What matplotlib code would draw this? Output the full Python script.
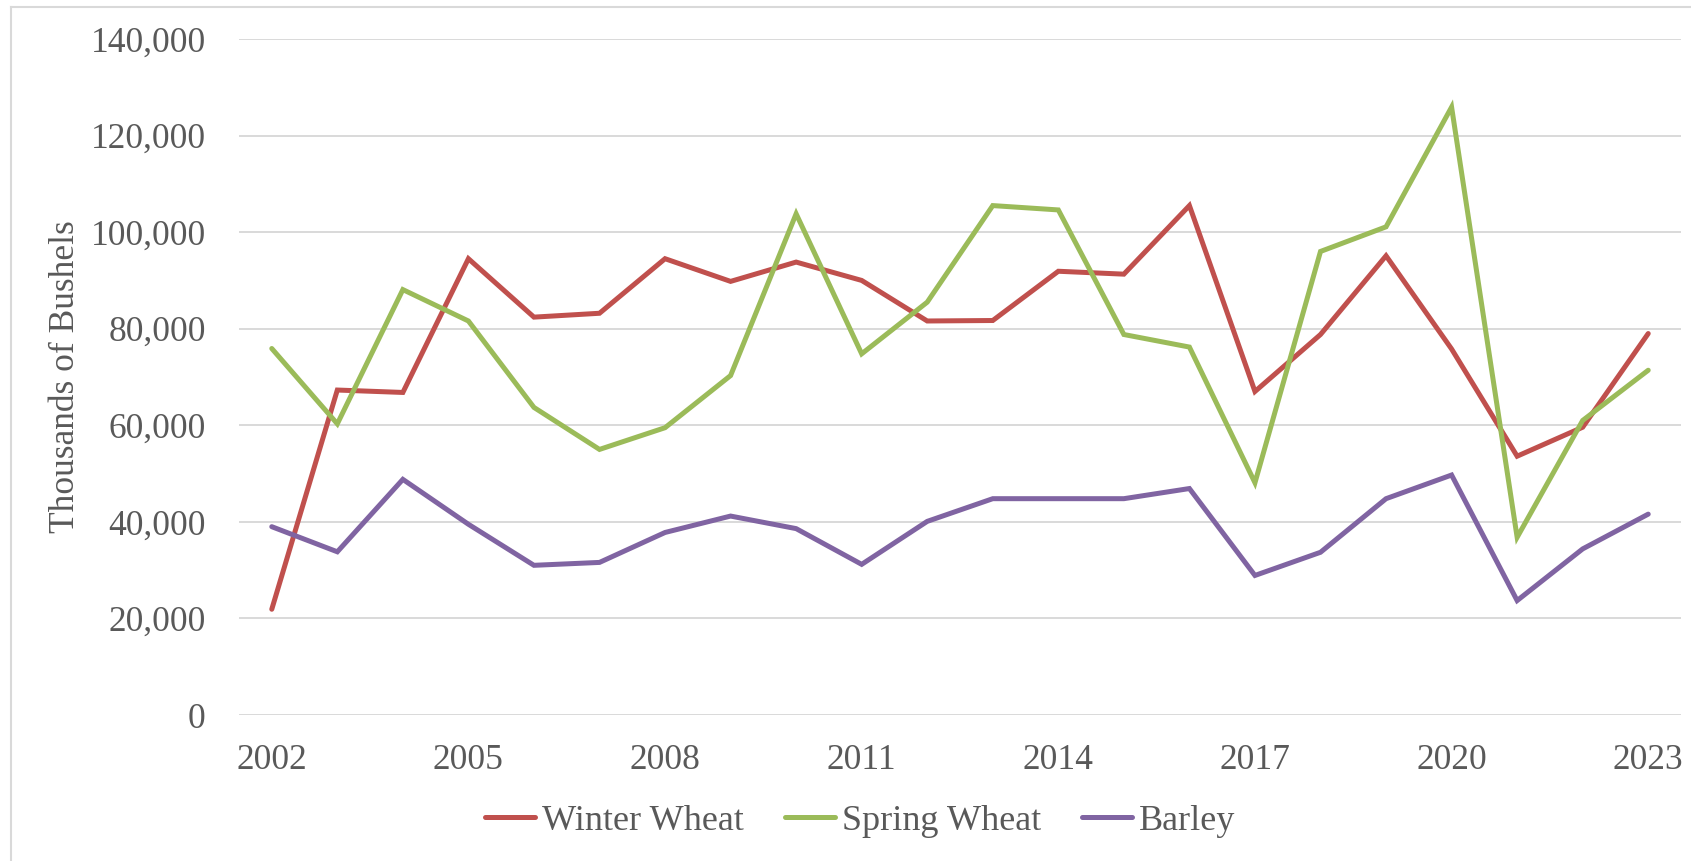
import matplotlib
matplotlib.use("Agg")
import matplotlib.pyplot as plt
from matplotlib.ticker import FuncFormatter, FixedLocator
from matplotlib.lines import Line2D

years = list(range(2002, 2024))
winter_wheat = [21900, 67300, 66800, 94500, 82400, 83200, 94500, 89800, 93800, 90000, 81600,
                81700, 91900, 91300, 105500, 67000, 78800, 95100, 75800, 53600, 59600, 79000]
spring_wheat = [75900, 60300, 88100, 81600, 63700, 55000, 59500, 70300, 103800, 74800, 85500,
                105500, 104600, 78800, 76200, 48100, 96000, 101100, 125900, 36800, 61000, 71400]
barley = [39000, 33800, 48800, 39500, 31000, 31600, 37800, 41200, 38600, 31200, 40100,
          44800, 44800, 44800, 46900, 28900, 33700, 44800, 49700, 23700, 34400, 41600]
series_names = ["Winter Wheat", "Spring Wheat", "Barley"]
colors = ["#C0504D", "#9BBB59", "#8064A2"]
y_ticks = [0, 20000, 40000, 60000, 80000, 100000, 120000, 140000]
x_tick_years = [2002, 2005, 2008, 2011, 2014, 2017, 2020, 2023]

plt.rcParams["font.family"] = ["Liberation Serif", "DejaVu Serif"]
text_color = "#595959"
fs = 25.5

W, H = 1691, 861
fig = plt.figure(figsize=(W / 100, H / 100), dpi=100)
ax = fig.add_axes([239 / W, 1 - 715 / H, (1681 - 239) / W, (715 - 39) / H])

for vals, name, c in zip([winter_wheat, spring_wheat, barley], series_names, colors):
    ax.plot(years, vals, color=c, lw=3.6, label=name, solid_joinstyle="miter",
            solid_capstyle="round")

ax.set_xlim(years[0] - 0.5, years[-1] + 0.5)
ax.set_ylim(0, 140000)
ax.yaxis.set_major_locator(FixedLocator(y_ticks))
ax.xaxis.set_major_locator(FixedLocator(x_tick_years))
ax.yaxis.set_major_formatter(FuncFormatter(lambda v, p: f"{int(v):,}"))
ax.grid(axis="y", color="#D9D9D9", lw=1.4)
ax.set_axisbelow(True)
for s in ax.spines.values():
    s.set_visible(False)
ax.tick_params(axis="both", length=0, labelsize=fs, labelcolor=text_color)
ax.tick_params(axis="y", pad=24)
ax.tick_params(axis="x", pad=21)
ax.set_ylabel("Thousands of Bushels", fontsize=fs, color=text_color)
ax.yaxis.set_label_coords((82 - 239) / 1442, 0.5)

leg = fig.legend(loc="center", bbox_to_anchor=(860 / W, 1 - 821 / H), ncol=3, frameon=False,
                 fontsize=26, handlelength=1.4, handletextpad=0.18, columnspacing=1.13,
                 labelcolor=text_color)

# chart area border (light gray), top and left visible
fig.add_artist(Line2D([11 / W, 1.0], [1 - 7 / H, 1 - 7 / H], color="#D9D9D9", lw=1.5,
                      transform=fig.transFigure))
fig.add_artist(Line2D([11 / W, 11 / W], [0, 1 - 7 / H], color="#D9D9D9", lw=1.5,
                      transform=fig.transFigure))

fig.savefig("out.png", dpi=100)
